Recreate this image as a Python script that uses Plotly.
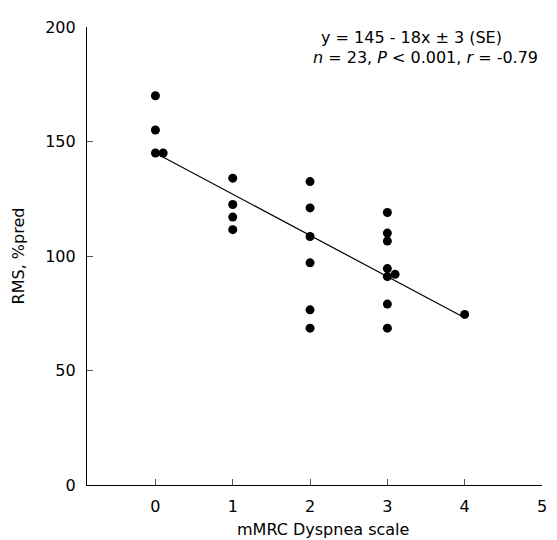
import plotly.graph_objects as go

# Data
mmrc = [0, 0, 0, 0.1,
        1, 1, 1, 1,
        2, 2, 2, 2, 2, 2,
        3, 3, 3, 3, 3, 3.1, 3, 3,
        4]
rms = [170, 155, 145, 145,
       134, 122.5, 117, 111.5,
       132.5, 121, 108.5, 97, 76.5, 68.5,
       119, 110, 106.5, 94.5, 91, 92, 79, 68.5,
       74.5]
fit_x = [0, 4]
intercept, slope = 145, -18
fit_y = [intercept + slope * v for v in fit_x]

x_ticks = [0, 1, 2, 3, 4, 5]
y_ticks = [0, 50, 100, 150, 200]
x_title = "mMRC Dyspnea scale"
y_title = "RMS, %pred"

FONT = "DejaVu Sans"

fig = go.Figure()
fig.add_trace(go.Scatter(x=fit_x, y=fit_y, mode="lines",
                         line=dict(color="black", width=1.2), showlegend=False))
fig.add_trace(go.Scatter(x=mmrc, y=rms, mode="markers",
                         marker=dict(color="black", size=9), showlegend=False))

# page has an 8px body margin; figure sized/offset to match the 557x540 view
fig.update_layout(
    width=549, height=532,
    margin=dict(l=78, r=10, t=16, b=55),
    paper_bgcolor="white", plot_bgcolor="white",
    font=dict(family=FONT, size=16, color="black"),
    xaxis=dict(range=[-0.885, 5], tickvals=x_ticks, ticks="inside", ticklen=6,
               tickcolor="#555555", showline=True, linecolor="black", linewidth=1.2,
               showgrid=False, zeroline=False, tickfont=dict(size=16),
               ticklabelstandoff=7),
    yaxis=dict(range=[0, 200], tickvals=y_ticks, ticks="inside", ticklen=6,
               tickcolor="#555555", showline=True, linecolor="black", linewidth=1.2,
               showgrid=False, zeroline=False, tickfont=dict(size=16),
               ticklabelstandoff=7,
               title=dict(text=y_title, font=dict(size=16), standoff=16)),
    annotations=[
        dict(xref="paper", yref="paper", x=(325 - 86) / 461, y=(485 - 530) / 461,
             xanchor="center", yanchor="middle", showarrow=False,
             text=x_title, font=dict(size=16)),
        dict(xref="paper", yref="paper", x=(321 - 86) / 461, y=(485 - 35) / 461,
             xanchor="left", yanchor="middle", showarrow=False,
             text="y = 145 - 18x ± 3 (SE)", font=dict(size=16)),
        dict(xref="paper", yref="paper", x=(313 - 86) / 461, y=(485 - 55) / 461,
             xanchor="left", yanchor="middle", showarrow=False,
             text="<i>n</i> = 23, <i>P</i> &lt; 0.001, <i>r</i> = -0.79", font=dict(size=16)),
    ],
)

fig.write_html("out.html")
